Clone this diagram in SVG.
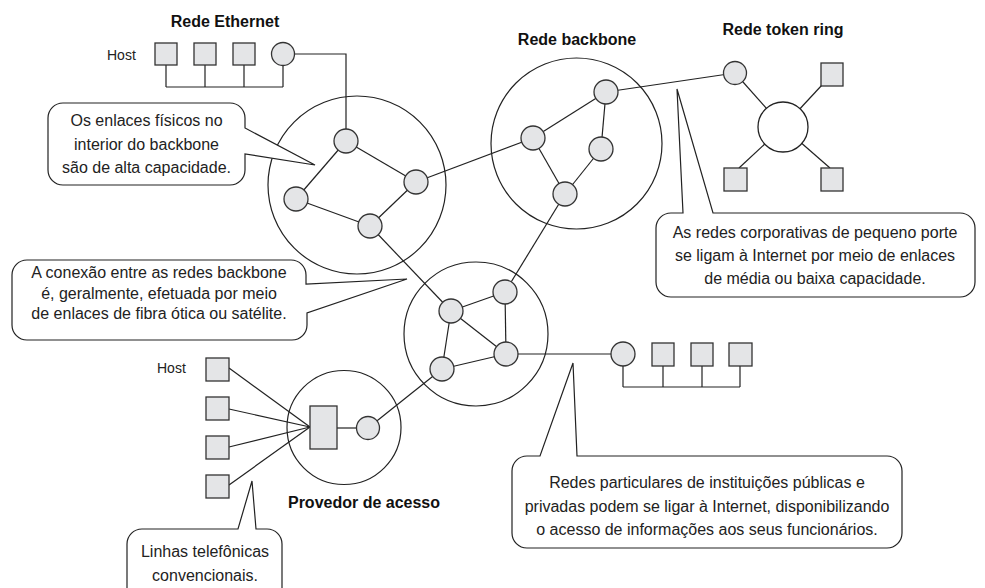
<svg xmlns="http://www.w3.org/2000/svg" width="985" height="588" viewBox="0 0 985 588">
<style>
.bg{fill:#ffffff}
.ring{fill:none;stroke:#222;stroke-width:1.2}
.ln{fill:none;stroke:#222;stroke-width:1.2}
.nd{fill:#e4e5e7;stroke:#333;stroke-width:1.3}
.hub{fill:#ffffff;stroke:#222;stroke-width:1.3}
.co{fill:#ffffff;stroke:#222;stroke-width:1.2;stroke-linejoin:miter}
.t{font-family:"Liberation Sans",Arial,sans-serif;font-size:16px;fill:#222;text-anchor:middle}
.tb{font-family:"Liberation Sans",Arial,sans-serif;font-size:16px;font-weight:bold;fill:#111;text-anchor:middle}
.th{font-family:"Liberation Sans",Arial,sans-serif;font-size:14px;fill:#222;text-anchor:start}
</style>
<rect class="bg" x="0" y="0" width="985" height="588"/>

<!-- network boundary circles -->
<g id="net-circles">
  <circle class="ring" cx="357" cy="185" r="89"/>
  <circle class="ring" cx="576.5" cy="143.5" r="85.5"/>
  <circle class="ring" cx="476" cy="334" r="72"/>
  <circle class="ring" cx="344" cy="427.5" r="57"/>
</g>

<!-- connectors -->
<g id="connectors">
  <!-- Ethernet -->
  <path class="ln" d="M166,65 V87 M205,65 V87 M244,65 V87 M283,65 V87 M166,87 H283"/>
  <path class="ln" d="M294,54 H346 V141"/>
  <!-- left backbone -->
  <line class="ln" x1="346" y1="141" x2="296" y2="199"/>
  <line class="ln" x1="346" y1="141" x2="416" y2="182"/>
  <line class="ln" x1="416" y1="182" x2="370" y2="226"/>
  <line class="ln" x1="296" y1="199" x2="370" y2="226"/>
  <line class="ln" x1="416" y1="182" x2="533" y2="138"/>
  <line class="ln" x1="370" y1="226" x2="451" y2="311"/>
  <!-- right backbone -->
  <line class="ln" x1="606" y1="92" x2="533" y2="138"/>
  <line class="ln" x1="606" y1="92" x2="601" y2="149"/>
  <line class="ln" x1="601" y1="149" x2="565" y2="194"/>
  <line class="ln" x1="533" y1="138" x2="565" y2="194"/>
  <line class="ln" x1="565" y1="194" x2="505" y2="292"/>
  <line class="ln" x1="606" y1="92" x2="735" y2="73"/>
  <!-- token ring -->
  <line class="ln" x1="783" y1="127" x2="735" y2="73"/>
  <line class="ln" x1="783" y1="127" x2="822" y2="85"/>
  <line class="ln" x1="783" y1="127" x2="739" y2="168"/>
  <line class="ln" x1="783" y1="127" x2="830" y2="168"/>
  <!-- middle backbone -->
  <line class="ln" x1="451" y1="311" x2="505" y2="292"/>
  <line class="ln" x1="505" y1="292" x2="506" y2="354"/>
  <line class="ln" x1="451" y1="311" x2="506" y2="354"/>
  <line class="ln" x1="451" y1="311" x2="442" y2="369"/>
  <line class="ln" x1="442" y1="369" x2="506" y2="354"/>
  <line class="ln" x1="506" y1="354" x2="623" y2="354"/>
  <line class="ln" x1="442" y1="369" x2="368" y2="428"/>
  <!-- bottom Ethernet bus -->
  <path class="ln" d="M623,366 V387 M663,366 V387 M702,366 V387 M740,366 V387 M623,387 H740"/>
  <!-- provider -->
  <line class="ln" x1="229" y1="368" x2="310" y2="427"/>
  <line class="ln" x1="229" y1="409" x2="310" y2="427"/>
  <line class="ln" x1="229" y1="447" x2="310" y2="427"/>
  <line class="ln" x1="229" y1="485" x2="310" y2="427"/>
  <line class="ln" x1="337" y1="428" x2="368" y2="428"/>
</g>

<!-- Ethernet -->
<g id="ethernet">
  <text class="tb" x="225" y="27">Rede Ethernet</text>
  <text class="th" x="107" y="60">Host</text>
  <rect class="nd" x="155" y="43" width="22" height="22"/>
  <rect class="nd" x="194" y="43" width="22" height="22"/>
  <rect class="nd" x="233" y="43" width="22" height="22"/>
  <circle class="nd" cx="283" cy="54" r="11.5"/>
</g>

<!-- left backbone nodes -->
<g id="backbone-left">
  <circle class="nd" cx="346" cy="141" r="12"/>
  <circle class="nd" cx="296" cy="199" r="12"/>
  <circle class="nd" cx="416" cy="182" r="12"/>
  <circle class="nd" cx="370" cy="226" r="12"/>
</g>

<!-- right backbone nodes -->
<g id="backbone-right">
  <text class="tb" x="577" y="45">Rede backbone</text>
  <circle class="nd" cx="606" cy="92" r="12"/>
  <circle class="nd" cx="533" cy="138" r="12"/>
  <circle class="nd" cx="601" cy="149" r="12"/>
  <circle class="nd" cx="565" cy="194" r="12"/>
</g>

<!-- token ring -->
<g id="token-ring">
  <text class="tb" x="783" y="35">Rede token ring</text>
  <circle class="hub" cx="783" cy="127" r="25"/>
  <circle class="nd" cx="735" cy="73" r="11.5"/>
  <rect class="nd" x="821" y="63" width="22" height="23"/>
  <rect class="nd" x="724" y="168" width="23" height="23"/>
  <rect class="nd" x="821" y="168" width="22" height="23"/>
</g>

<!-- middle backbone nodes -->
<g id="backbone-middle">
  <circle class="nd" cx="451" cy="311" r="12"/>
  <circle class="nd" cx="505" cy="292" r="12"/>
  <circle class="nd" cx="506" cy="354" r="12"/>
  <circle class="nd" cx="442" cy="369" r="12"/>
</g>

<!-- bottom ethernet -->
<g id="ethernet-2">
  <circle class="nd" cx="623" cy="354" r="12"/>
  <rect class="nd" x="652" y="343" width="22" height="23"/>
  <rect class="nd" x="691" y="343" width="22" height="23"/>
  <rect class="nd" x="729" y="343" width="23" height="23"/>
</g>

<!-- provider -->
<g id="provider">
  <text class="th" x="157" y="373">Host</text>
  <rect class="nd" x="206" y="358" width="23" height="23"/>
  <rect class="nd" x="206" y="397" width="23" height="23"/>
  <rect class="nd" x="206" y="436" width="23" height="23"/>
  <rect class="nd" x="206" y="475" width="23" height="23"/>
  <rect class="nd" x="310" y="406" width="27" height="43"/>
  <circle class="nd" cx="368" cy="428" r="11.5"/>
  <text class="tb" x="364" y="508">Provedor de acesso</text>
</g>

<!-- callouts -->
<g id="callout-backbone-links">
  <path class="co" d="M63,103 H230 A15,15 0 0 1 245,118 V128 L315,165 L245,154 V170 A15,15 0 0 1 230,185 H63 A15,15 0 0 1 48,170 V118 A15,15 0 0 1 63,103 Z"/>
  <text class="t" x="146.5" y="126">Os enlaces físicos no</text>
  <text class="t" x="146.5" y="149.5">interior do backbone</text>
  <text class="t" x="146.5" y="173">são de alta capacidade.</text>
</g>

<g id="callout-corporate">
  <path class="co" d="M671,213 H683 L677,89 L713,213 H960 A15,15 0 0 1 975,228 V282 A15,15 0 0 1 960,297 H671 A15,15 0 0 1 656,282 V228 A15,15 0 0 1 671,213 Z"/>
  <text class="t" x="815" y="238">As redes corporativas de pequeno porte</text>
  <text class="t" x="815" y="261">se ligam à Internet por meio de enlaces</text>
  <text class="t" x="815" y="284">de média ou baixa capacidade.</text>
</g>

<g id="callout-interconnect">
  <path class="co" d="M27,260 H291 A15,15 0 0 1 306,275 V284 L407,279 L307,313 V325 A15,15 0 0 1 292,340 H27 A15,15 0 0 1 12,325 V275 A15,15 0 0 1 27,260 Z"/>
  <text class="t" x="159" y="278">A conexão entre as redes backbone</text>
  <text class="t" x="159" y="298.5">é, geralmente, efetuada por meio</text>
  <text class="t" x="159" y="319">de enlaces de fibra ótica ou satélite.</text>
</g>

<g id="callout-phone">
  <path class="co" d="M142,529 H238 L252,481 L256,529 H267 A15,15 0 0 1 282,544 V600 H127 V544 A15,15 0 0 1 142,529 Z"/>
  <text class="t" x="205" y="557">Linhas telefônicas</text>
  <text class="t" x="205" y="581">convencionais.</text>
</g>

<g id="callout-private">
  <path class="co" d="M527,456 H540 L573,363 L577,456 H887 A15,15 0 0 1 902,471 V533 A15,15 0 0 1 887,548 H527 A15,15 0 0 1 512,533 V471 A15,15 0 0 1 527,456 Z"/>
  <text class="t" x="707" y="488">Redes particulares de instituições públicas e</text>
  <text class="t" x="707" y="511.5">privadas podem se ligar à Internet, disponibilizando</text>
  <text class="t" x="707" y="535">o acesso de informações aos seus funcionários.</text>
</g>
</svg>
